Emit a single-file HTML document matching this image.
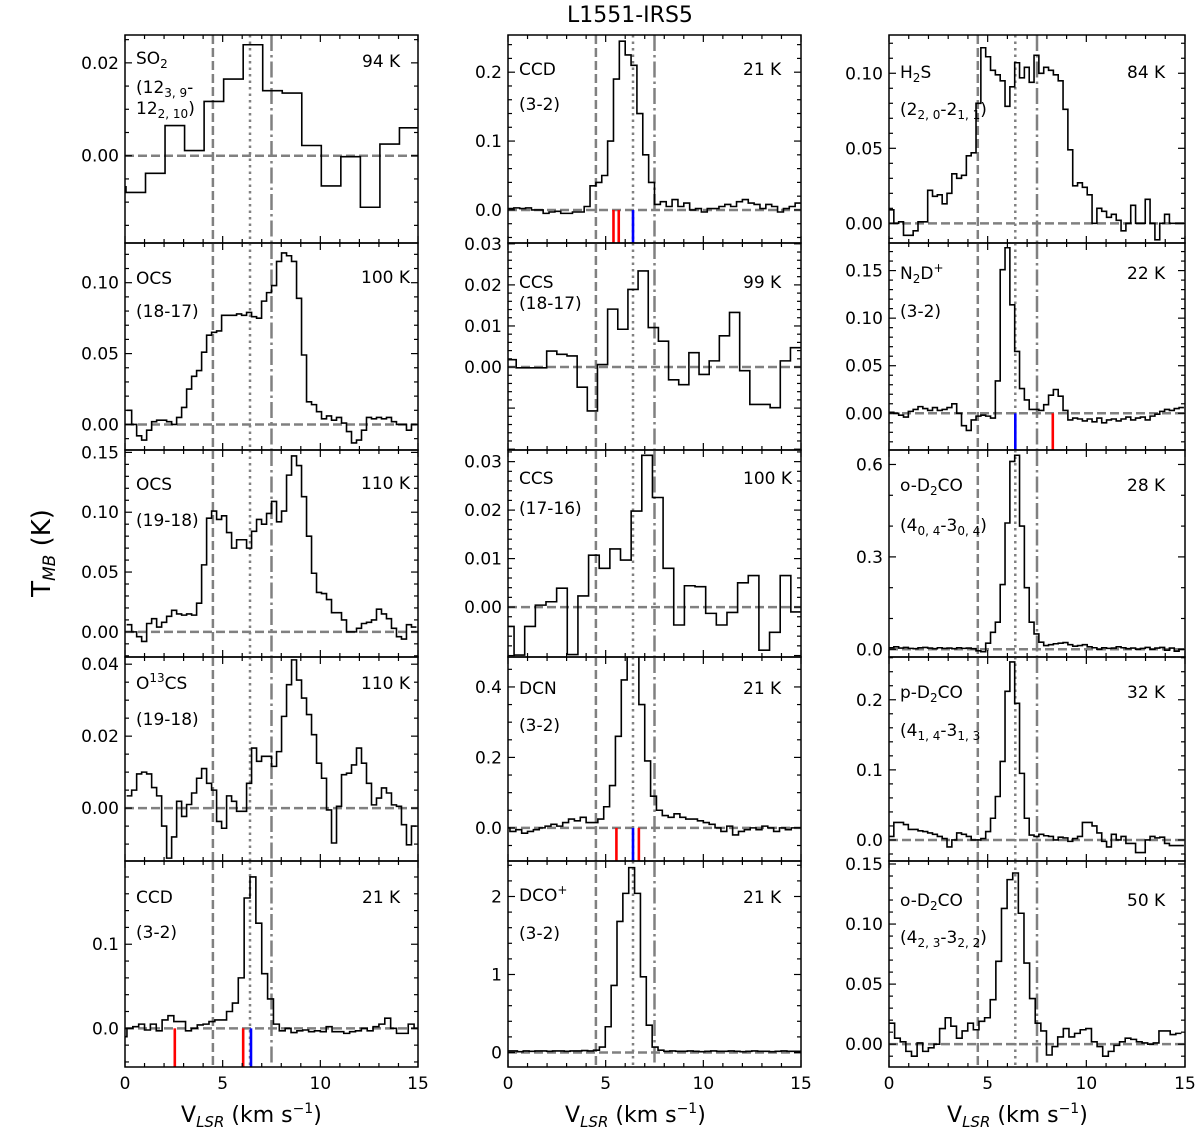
<!DOCTYPE html>
<html><head><meta charset="utf-8">
<style>
html,body{margin:0;padding:0;background:#fff;}
#wrap{position:relative;width:1200px;height:1141px;overflow:hidden;font-family:"DejaVu Sans","Liberation Sans",sans-serif;color:#000;}
svg{position:absolute;left:0;top:0;}
.lbl{position:absolute;font-size:17px;white-space:nowrap;line-height:1;}
.lbl sub{font-size:12px;vertical-align:-4px;line-height:0;}
.lbl sup{font-size:12px;vertical-align:7px;line-height:0;}
.ax{position:absolute;font-size:22px;white-space:nowrap;line-height:1;}
.ax sub{font-size:15px;vertical-align:-5px;font-style:italic;line-height:0;}
.ax sup{font-size:14px;vertical-align:9px;line-height:0;}
</style></head>
<body>
<div id="wrap">
<svg id="chart" width="1200" height="1141"></svg>

<div class="ax" style="left:567px;top:5px;font-size:22px;">L1551-IRS5</div>
<div class="ax" style="left:-18px;top:540px;font-size:26px;transform:rotate(-90deg);transform-origin:center;width:120px;text-align:center;">T<sub style="font-size:17px">MB</sub> (K)</div>
<div class="ax" style="left:181px;top:1105px;">V<sub>LSR</sub> (km s<sup>−1</sup>)</div>
<div class="ax" style="left:565px;top:1105px;">V<sub>LSR</sub> (km s<sup>−1</sup>)</div>
<div class="ax" style="left:947px;top:1105px;">V<sub>LSR</sub> (km s<sup>−1</sup>)</div>

<div class="lbl" style="left:136px;top:51px;">SO<sub>2</sub></div>
<div class="lbl" style="left:136px;top:80px;">(12<sub>3, 9</sub>-</div>
<div class="lbl" style="left:136px;top:101px;">12<sub>2, 10</sub>)</div>
<div class="lbl" style="left:362px;top:54px;">94 K</div>
<div class="lbl" style="left:136px;top:271px;">OCS</div>
<div class="lbl" style="left:136px;top:304px;">(18-17)</div>
<div class="lbl" style="left:361px;top:270px;">100 K</div>
<div class="lbl" style="left:136px;top:477px;">OCS</div>
<div class="lbl" style="left:136px;top:513px;">(19-18)</div>
<div class="lbl" style="left:361px;top:476px;">110 K</div>
<div class="lbl" style="left:136px;top:676px;">O<sup>13</sup>CS</div>
<div class="lbl" style="left:136px;top:712px;">(19-18)</div>
<div class="lbl" style="left:361px;top:676px;">110 K</div>
<div class="lbl" style="left:136px;top:890px;">CCD</div>
<div class="lbl" style="left:136px;top:925px;">(3-2)</div>
<div class="lbl" style="left:362px;top:890px;">21 K</div>

<div class="lbl" style="left:519px;top:62px;">CCD</div>
<div class="lbl" style="left:519px;top:97px;">(3-2)</div>
<div class="lbl" style="left:743px;top:62px;">21 K</div>
<div class="lbl" style="left:519px;top:275px;">CCS</div>
<div class="lbl" style="left:519px;top:296px;">(18-17)</div>
<div class="lbl" style="left:743px;top:275px;">99 K</div>
<div class="lbl" style="left:519px;top:471px;">CCS</div>
<div class="lbl" style="left:519px;top:501px;">(17-16)</div>
<div class="lbl" style="left:743px;top:471px;">100 K</div>
<div class="lbl" style="left:519px;top:681px;">DCN</div>
<div class="lbl" style="left:519px;top:718px;">(3-2)</div>
<div class="lbl" style="left:743px;top:681px;">21 K</div>
<div class="lbl" style="left:519px;top:888px;">DCO<sup>+</sup></div>
<div class="lbl" style="left:519px;top:926px;">(3-2)</div>
<div class="lbl" style="left:743px;top:890px;">21 K</div>

<div class="lbl" style="left:900px;top:65px;">H<sub>2</sub>S</div>
<div class="lbl" style="left:900px;top:102px;">(2<sub>2, 0</sub>-2<sub>1, 1</sub>)</div>
<div class="lbl" style="left:1127px;top:65px;">84 K</div>
<div class="lbl" style="left:900px;top:266px;">N<sub>2</sub>D<sup>+</sup></div>
<div class="lbl" style="left:900px;top:304px;">(3-2)</div>
<div class="lbl" style="left:1127px;top:266px;">22 K</div>
<div class="lbl" style="left:900px;top:478px;">o-D<sub>2</sub>CO</div>
<div class="lbl" style="left:900px;top:518px;">(4<sub>0, 4</sub>-3<sub>0, 4</sub>)</div>
<div class="lbl" style="left:1127px;top:478px;">28 K</div>
<div class="lbl" style="left:900px;top:685px;">p-D<sub>2</sub>CO</div>
<div class="lbl" style="left:900px;top:723px;">(4<sub>1, 4</sub>-3<sub>1, 3</sub></div>
<div class="lbl" style="left:1127px;top:685px;">32 K</div>
<div class="lbl" style="left:900px;top:893px;">o-D<sub>2</sub>CO</div>
<div class="lbl" style="left:900px;top:930px;">(4<sub>2, 3</sub>-3<sub>2, 2</sub>)</div>
<div class="lbl" style="left:1127px;top:893px;">50 K</div>
</div>

<script>
const velocityLines = [4.5, 6.4, 7.5];
const xTickLabels = ["0", "5", "10", "15"];
const xTickValues = [0, 5, 10, 15];

const so2Values = [-0.0067,-0.0079,-0.0038,0.0065,0.0011,0.0117,0.0165,0.0239,0.014,0.0135,0.0022,-0.0065,-0.0002,-0.0111,0.0025,0.006];
const ocs1817Values = [0.01,0.0,-0.008,-0.011,-0.004,0.002,0.003,0.003,0.002,0.0,0.005,0.012,0.025,0.034,0.038,0.051,0.063,0.065,0.066,0.077,0.077,0.077,0.078,0.077,0.079,0.076,0.075,0.087,0.093,0.098,0.115,0.121,0.119,0.115,0.089,0.049,0.016,0.014,0.009,0.004,0.006,0.003,0.005,0.001,-0.005,-0.013,-0.011,-0.004,0.005,0.004,0.005,0.004,0.005,0.002,0.0,0.0,-0.004,0.0];
const ocs1918Values = [0.006,0.0,-0.004,-0.008,0.007,0.011,0.004,0.008,0.013,0.018,0.015,0.014,0.015,0.014,0.024,0.056,0.095,0.101,0.094,0.097,0.083,0.070,0.077,0.077,0.070,0.084,0.094,0.090,0.099,0.109,0.092,0.101,0.131,0.147,0.139,0.113,0.080,0.049,0.033,0.032,0.027,0.016,0.016,0.010,0.0,0.0,0.003,0.007,0.008,0.010,0.019,0.015,0.011,0.003,-0.004,-0.006,0.006,0.004];
const o13csValues = [0.0034,0.005,0.0095,0.010,0.0095,0.0057,0.0034,-0.005,-0.0139,-0.008,0.0019,-0.0023,0.001,0.0042,0.0083,0.011,0.0069,0.005,-0.0037,-0.0056,0.0034,0.0019,-0.0009,-0.0009,0.0069,0.0167,0.013,0.0144,0.0144,0.0116,0.0157,0.0255,0.0343,0.0412,0.0356,0.0306,0.026,0.0204,0.0125,0.0083,-0.0005,-0.0097,0.0005,0.0093,0.0097,0.012,0.0167,0.0125,0.0069,0.0009,0.0028,0.0056,0.0042,0.0009,0.0005,-0.0046,-0.0102,-0.005];
const ccd1Values = [-0.010,0.000,0.002,0.005,-0.002,0.005,-0.003,0.010,0.015,0.008,0.008,-0.003,0.000,0.004,0.005,0.008,0.010,0.010,0.020,0.030,0.060,0.155,0.180,0.125,0.065,0.035,0.005,-0.003,0.000,-0.005,-0.003,-0.002,-0.004,-0.003,-0.004,0.002,-0.004,-0.004,-0.006,-0.004,-0.003,0.000,-0.003,0.002,0.005,0.012,0.000,-0.006,-0.006,0.005,0.0];
const ccd2Values = [0.002,0.003,0.002,0.003,0.0,0.0,-0.005,-0.003,-0.002,-0.005,-0.005,-0.003,-0.003,0.005,0.035,0.040,0.050,0.100,0.190,0.245,0.225,0.210,0.140,0.080,0.040,0.008,0.012,0.005,0.015,0.005,0.010,0.000,0.002,-0.003,0.002,0.002,0.005,0.008,0.005,0.012,0.015,0.010,0.008,0.002,0.008,0.005,-0.003,0.002,0.005,0.010];
const ccs1817Values = [0.0018,-0.0002,-0.0002,-0.0002,0.0039,0.0031,0.0027,-0.0049,-0.0107,0.0006,0.0141,0.0092,0.0189,0.0234,0.0096,0.0063,-0.0031,-0.0043,0.0035,-0.0018,0.0015,0.0076,0.0133,-0.0009,-0.0091,-0.0091,-0.0099,0.0015,0.0047];
const ccs1716Values = [-0.004,-0.0099,-0.004,0.0004,0.0011,0.0039,-0.0098,0.0023,0.0107,0.008,0.012,0.0097,0.0198,0.0313,0.0226,0.008,-0.0037,0.0044,0.0042,-0.0013,-0.0037,-0.0011,0.005,0.0065,-0.0089,-0.0052,0.0065,-0.001,0.0113];
const dcnValues = [0.0,-0.01,-0.005,-0.015,-0.01,-0.005,0.0,0.005,0.01,0.005,0.015,0.025,0.02,0.03,0.015,0.015,0.025,0.06,0.12,0.26,0.42,0.50,0.49,0.35,0.19,0.09,0.05,0.035,0.03,0.04,0.03,0.025,0.025,0.02,0.015,0.01,0.0,-0.01,0.005,-0.02,-0.01,-0.005,0.0,-0.005,0.005,0.0,-0.01,0.0,-0.005,0.0,0.0];
const dcopValues = [0.02,0.02,0.01,0.02,0.015,0.02,0.02,0.015,0.02,0.02,0.015,0.02,0.02,0.025,0.02,0.03,0.07,0.33,0.86,1.68,2.04,2.37,2.04,0.97,0.35,0.07,0.03,0.015,0.02,0.015,0.015,0.02,0.015,0.01,0.015,0.02,0.015,0.015,0.02,0.015,0.01,0.015,0.02,0.015,0.015,0.01,0.015,0.02,0.015,0.015,0.015];
const h2sValues = [0.009,0.0,0.001,-0.008,-0.008,-0.005,0.001,0.001,0.022,0.018,0.019,0.013,0.020,0.033,0.030,0.032,0.045,0.047,0.080,0.117,0.111,0.102,0.099,0.095,0.078,0.091,0.107,0.097,0.104,0.094,0.112,0.100,0.104,0.102,0.099,0.095,0.076,0.049,0.025,0.027,0.024,0.019,0.0,0.010,0.008,0.004,0.006,0.002,-0.005,0.0,0.012,0.0,0.0,0.016,0.0,-0.011,0.0,0.006,0.0,0.0,0.0];
const n2dpValues = [0.001,0.0,-0.002,-0.004,0.002,0.004,0.007,0.005,0.003,0.006,0.003,0.004,0.006,0.010,0.0,-0.013,-0.018,-0.007,-0.003,-0.002,-0.003,-0.005,0.034,0.151,0.174,0.114,0.065,0.026,0.014,0.004,0.004,0.003,0.009,0.019,0.025,0.018,0.003,-0.007,-0.005,-0.006,-0.008,-0.006,-0.009,-0.005,-0.010,-0.007,-0.006,-0.008,-0.006,-0.004,-0.007,-0.005,-0.004,-0.007,-0.003,-0.001,0.002,0.004,0.003,0.005,0.006];
const od2coValues = [0.005,0.008,0.004,0.006,0.003,0.002,0.005,0.006,0.004,0.002,0.005,0.003,0.004,0.002,0.005,0.003,0.004,0.002,-0.005,-0.008,0.02,0.055,0.088,0.21,0.41,0.61,0.63,0.40,0.20,0.088,0.05,0.023,0.012,0.015,0.018,0.02,0.022,0.015,0.01,0.012,0.015,0.008,0.005,0.0,0.005,0.003,0.004,0.008,0.005,0.002,0.004,0.0,0.003,0.006,0.0,0.004,0.006,-0.003,0.004,-0.006,0.0];
const pd2coValues = [0.005,0.025,0.025,0.022,0.015,0.015,0.013,0.012,0.01,0.008,0.005,0.002,-0.01,0.0,0.01,0.008,0.005,0.0,0.0,0.002,0.012,0.031,0.062,0.112,0.212,0.254,0.195,0.095,0.031,0.007,0.005,0.008,0.006,0.005,0.0,0.004,0.003,-0.002,0.002,0.005,0.025,0.025,0.02,0.01,-0.002,-0.01,0.008,0.0,0.005,-0.005,-0.005,-0.018,-0.018,0.0,0.005,0.003,0.004,-0.005,-0.008,-0.008,-0.008];
const od2co50Values = [0.0175,0.005,0.002,-0.006,-0.010,0.001,-0.006,-0.003,0.0,0.013,0.022,0.015,0.005,0.011,0.0175,0.012,0.019,0.022,0.037,0.069,0.113,0.137,0.1425,0.109,0.0675,0.038,0.0175,0.011,-0.009,-0.002,0.006,0.013,0.006,0.009,0.012,0.013,0.002,-0.002,-0.010,-0.006,-0.001,0.002,0.005,0.004,0.002,0.001,0.0,0.001,0.011,0.011,0.008,0.009];

const ccd1RedLines = [2.55, 6.05];
const ccd1BlueLines = [6.45];
const ccd2RedLines = [5.4, 5.67];
const ccd2BlueLines = [6.4];
const dcnRedLines = [5.55, 6.7];
const dcnBlueLines = [6.4];
const n2dpRedLines = [8.3];
const n2dpBlueLines = [6.4];

const cols = [{x0:125,x1:418},{x0:508,x1:801},{x0:889,x1:1185}];
const rowsTop = [35,243,450,657,861,1067];

const panels = [
 {id:'so2',c:0,r:0,ymin:-0.0188,ymax:0.026,major:0.02,minor:0.005,dec:2,vals:so2Values,v0:-0.95,w:1.0},
 {id:'ocs1817',c:0,r:1,ymin:-0.018,ymax:0.128,major:0.05,minor:0.01,dec:2,vals:ocs1817Values,v0:0.085,w:0.2558},
 {id:'ocs1918',c:0,r:2,ymin:-0.021,ymax:0.152,major:0.05,minor:0.01,dec:2,vals:ocs1918Values,v0:0.085,w:0.2558},
 {id:'o13cs',c:0,r:3,ymin:-0.0147,ymax:0.042,major:0.02,minor:0.005,dec:2,vals:o13csValues,v0:0.085,w:0.2558},
 {id:'ccd1',c:0,r:4,ymin:-0.046,ymax:0.199,major:0.1,minor:0.02,dec:1,vals:ccd1Values,v0:-0.2,w:0.3,red:ccd1RedLines,blue:ccd1BlueLines},
 {id:'ccd2',c:1,r:0,ymin:-0.048,ymax:0.254,major:0.1,minor:0.02,dec:1,vals:ccd2Values,v0:0,w:0.3,red:ccd2RedLines,blue:ccd2BlueLines},
 {id:'ccs1817',c:1,r:1,ymin:-0.0202,ymax:0.0302,major:0.01,minor:0.002,dec:2,vals:ccs1817Values,v0:-0.1,w:0.52},
 {id:'ccs1716',c:1,r:2,ymin:-0.0103,ymax:0.0324,major:0.01,minor:0.002,dec:2,vals:ccs1716Values,v0:-0.235,w:0.545},
 {id:'dcn',c:1,r:3,ymin:-0.094,ymax:0.485,major:0.2,minor:0.05,dec:1,vals:dcnValues,v0:-0.2,w:0.3,red:dcnRedLines,blue:dcnBlueLines},
 {id:'dcop',c:1,r:4,ymin:-0.186,ymax:2.455,major:1,minor:0.2,dec:0,vals:dcopValues,v0:-0.12,w:0.3},
 {id:'h2s',c:2,r:0,ymin:-0.0131,ymax:0.1255,major:0.05,minor:0.01,dec:2,vals:h2sValues,v0:0,w:0.245},
 {id:'n2dp',c:2,r:1,ymin:-0.0386,ymax:0.179,major:0.05,minor:0.01,dec:2,vals:n2dpValues,v0:0,w:0.245,red:n2dpRedLines,blue:n2dpBlueLines},
 {id:'od2co',c:2,r:2,ymin:-0.025,ymax:0.647,major:0.3,minor:0.1,dec:1,vals:od2coValues,v0:0,w:0.245},
 {id:'pd2co',c:2,r:3,ymin:-0.03,ymax:0.261,major:0.1,minor:0.02,dec:1,vals:pd2coValues,v0:0,w:0.245},
 {id:'od2co50',c:2,r:4,ymin:-0.019,ymax:0.1525,major:0.05,minor:0.01,dec:2,vals:od2co50Values,v0:0,w:0.285}
];

const NS = 'http://www.w3.org/2000/svg';
const svg = document.getElementById('chart');
const defs = document.createElementNS(NS,'defs');
svg.appendChild(defs);

function mk(tag, attrs, parent){
  const e = document.createElementNS(NS, tag);
  for (const k in attrs) e.setAttribute(k, attrs[k]);
  (parent||svg).appendChild(e);
  return e;
}

panels.forEach(p => {
  const c = cols[p.c];
  const top = rowsTop[p.r], bot = rowsTop[p.r+1];
  const xs = v => c.x0 + (v/15)*(c.x1-c.x0);
  const ys = t => bot - (t-p.ymin)/(p.ymax-p.ymin)*(bot-top);

  const g = mk('g', {});
  
  

  const cp = mk('clipPath', {id:'clip-'+p.id}, defs);
  mk('rect', {x:c.x0, y:top, width:c.x1-c.x0, height:bot-top}, cp);
  const inner = mk('g', {'clip-path':'url(#clip-'+p.id+')'}, g);

  const z = mk('line', {x1:c.x0, x2:c.x1, y1:ys(0), y2:ys(0), stroke:'#808080','stroke-width':2.5,'stroke-dasharray':'9,4'}, inner);
  
  

  const styles = ['9,4','2.5,4','16,4,2.5,4'];
  velocityLines.forEach((v,i) => {
    const l = mk('line', {x1:xs(v), x2:xs(v), y1:top, y2:bot, stroke:'#808080','stroke-width':2.5,'stroke-dasharray':styles[i]}, inner);
    
    
  });

  let d = '';
  p.vals.forEach((t,i) => {
    const xa = xs(p.v0 + i*p.w), xb = xs(p.v0 + (i+1)*p.w), y = ys(t);
    d += (i===0 ? 'M' : 'L') + xa.toFixed(2) + ',' + y.toFixed(2) + 'L' + xb.toFixed(2) + ',' + y.toFixed(2);
  });
  const sp = mk('path', {d:d, fill:'none', stroke:'#000','stroke-width':1.6}, inner);
  
  

  (p.red||[]).forEach(v => {
    const m = mk('line', {x1:xs(v), x2:xs(v), y1:ys(0), y2:bot, stroke:'#ff0000','stroke-width':2.6}, inner);
    
    
  });
  (p.blue||[]).forEach(v => {
    const m = mk('line', {x1:xs(v), x2:xs(v), y1:ys(0), y2:bot, stroke:'#0000ff','stroke-width':2.6}, inner);
    
    
  });

  const fr = mk('rect', {x:c.x0, y:top, width:c.x1-c.x0, height:bot-top, fill:'none', stroke:'#000','stroke-width':1.5}, g);
  
  

  for (let v=0; v<=15; v++){
    const L = (v%5===0) ? 7 : 4;
    mk('line', {x1:xs(v), x2:xs(v), y1:bot, y2:bot-L, stroke:'#000','stroke-width':1.2}, g);
    mk('line', {x1:xs(v), x2:xs(v), y1:top, y2:top+L, stroke:'#000','stroke-width':1.2}, g);
  }
  if (p.r === 4){
    xTickValues.forEach((v,i) => {
      const t = mk('text', {x:xs(v), y:bot+22, 'text-anchor':'middle','font-size':17,'font-family':'DejaVu Sans, Liberation Sans, sans-serif'}, g);
      t.textContent = xTickLabels[i];
      
      
    });
  }

  const n0 = Math.ceil(p.ymin/p.minor - 1e-6), n1 = Math.floor(p.ymax/p.minor + 1e-6);
  const ratio = Math.round(p.major/p.minor);
  for (let n=n0; n<=n1; n++){
    const t = n*p.minor, y = ys(t);
    const isMajor = (((n % ratio) + ratio) % ratio) === 0;
    const L = isMajor ? 7 : 4;
    mk('line', {x1:c.x0, x2:c.x0+L, y1:y, y2:y, stroke:'#000','stroke-width':1.2}, g);
    mk('line', {x1:c.x1, x2:c.x1-L, y1:y, y2:y, stroke:'#000','stroke-width':1.2}, g);
    if (isMajor && n >= 0){
      const tx = mk('text', {x:c.x0-6, y:y+6, 'text-anchor':'end','font-size':17,'font-family':'DejaVu Sans, Liberation Sans, sans-serif'}, g);
      tx.textContent = n === 0 ? (0).toFixed(p.dec) : t.toFixed(p.dec);
      
      
    }
  }
});
</script>
</body></html>
